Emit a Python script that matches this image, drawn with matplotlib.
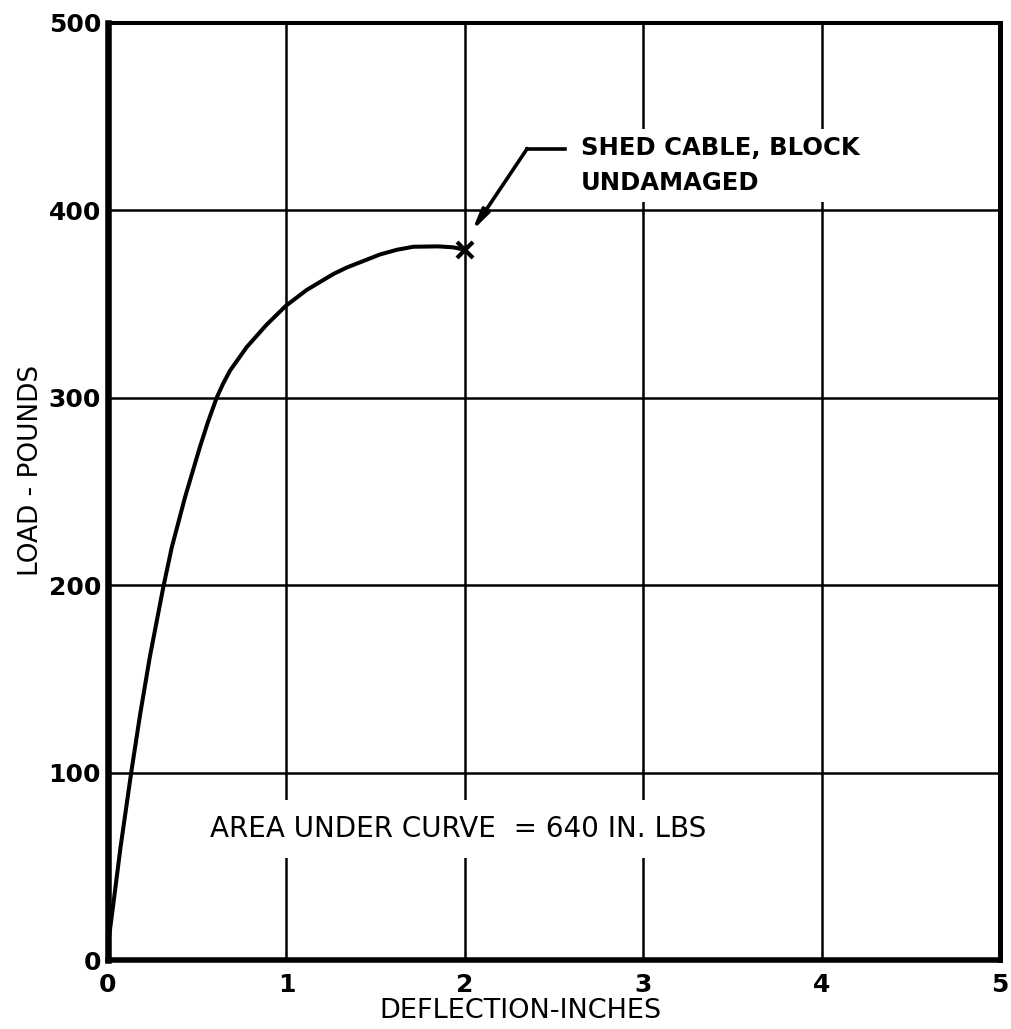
import matplotlib.pyplot as plt

# ── Data ───────────────────────────────────────────────────────────
deflection = [0.00, 0.03, 0.07, 0.13, 0.18, 0.235, 0.31, 0.357, 0.432, 0.516,
              0.56, 0.609, 0.645, 0.684, 0.777, 0.889, 0.996, 1.113, 1.262,
              1.338, 1.525, 1.62, 1.711, 1.85, 1.935, 2.00]
load = [8, 30, 60, 100, 131, 162, 199, 220, 247, 274,
        287, 300, 307.5, 314.5, 327, 339, 349, 357.5, 366,
        369.5, 376.5, 379, 380.6, 380.8, 380.3, 379]

failure_x, failure_y = 2.00, 379
x_ticks = [0, 1, 2, 3, 4, 5]
y_ticks = [0, 100, 200, 300, 400, 500]

fig = plt.figure(figsize=(10.11, 10.29), dpi=100)
ax = fig.add_axes([108 / 1011, 69 / 1029, 892 / 1011, 937 / 1029])

ax.plot(deflection, load, color='black', lw=2.9, solid_capstyle='round',
        solid_joinstyle='round', zorder=4)
ax.plot(failure_x, failure_y, marker='x', ms=11, mew=3, color='black', zorder=5)

# leader line + arrow to the failure point
ax.plot([2.56, 2.35], [433, 433], color='black', lw=2.6, zorder=4)
ax.annotate('', xy=(2.04, 389), xytext=(2.35, 433),
            arrowprops=dict(arrowstyle='-|>,head_length=1.2,head_width=0.25',
                            color='black', lw=2.6, shrinkA=0, shrinkB=0),
            zorder=4)
ax.text(2.65, 424, 'SHED CABLE, BLOCK\nUNDAMAGED', fontsize=17.5,
        fontweight='bold', va='center', ha='left', linespacing=1.55,
        zorder=3,
        bbox=dict(boxstyle='square,pad=0.3', fc='white', ec='none'))

ax.text(1.96, 70, 'AREA UNDER CURVE  = 640 IN. LBS', fontsize=20,
        ha='center', va='center', zorder=3,
        bbox=dict(boxstyle='square,pad=0.55', fc='white', ec='none'))

# ── Axes formatting ────────────────────────────────────────────────
ax.set_xlim(0, 5)
ax.set_ylim(0, 500)
ax.set_xticks(x_ticks)
ax.set_yticks(y_ticks)
ax.set_xticklabels([str(v) for v in x_ticks], fontsize=18, fontweight='bold')
ax.set_yticklabels([str(v) for v in y_ticks], fontsize=18, fontweight='bold')
ax.tick_params(length=0)
ax.tick_params(axis='x', pad=9)
ax.tick_params(axis='y', pad=5)

ax.grid(True, color='black', lw=1.8)
ax.set_axisbelow(True)

for side, w in {'left': 4.7, 'bottom': 4.0, 'top': 2.9, 'right': 3.6}.items():
    ax.spines[side].set_linewidth(w)
    ax.spines[side].set_zorder(6)

ax.set_xlabel('DEFLECTION-INCHES', fontsize=19.5)
ax.xaxis.set_label_coords(0.462, -0.041)
ax.set_ylabel('LOAD - POUNDS', fontsize=19)
ax.yaxis.set_label_coords(-0.072, 0.523)

plt.savefig('out.png', dpi=100)
